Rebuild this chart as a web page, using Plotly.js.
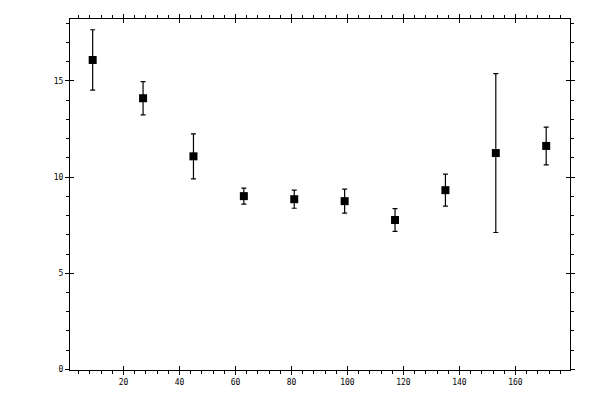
<!DOCTYPE html>
<html>
<head>
<meta charset="utf-8">
<script src="https://cdn.plot.ly/plotly-3.0.1.min.js"></script>
<style>html,body{margin:0;padding:0;background:#fff;}#chart{width:600px;height:400px;}</style>
</head>
<body>
<div id="chart"></div>
<script>
const xValues = [9, 27, 45, 63, 81, 99, 117, 135, 153, 171];
const yValues = [16.09, 14.10, 11.08, 9.01, 8.85, 8.75, 7.77, 9.32, 11.25, 11.62];
const yErrors = [1.57, 0.86, 1.17, 0.42, 0.47, 0.62, 0.59, 0.83, 4.13, 0.98];

const tickFont = {family: 'DejaVu Sans Mono, monospace', size: 8, color: '#000'};
const xRange = [0.9, 179.5];
const yRange = [-0.03, 18.22];

const main = {
  x: xValues, y: yValues, type: 'scatter', mode: 'markers',
  marker: {symbol: 'square', size: 8, color: '#000'},
  error_y: {type: 'data', array: yErrors, visible: true, color: '#000', thickness: 1.2, width: 2.5},
  hoverinfo: 'skip', showlegend: false
};
const ghost = {
  x: xValues, y: yValues, type: 'scatter', mode: 'markers',
  xaxis: 'x2', yaxis: 'y2',
  marker: {size: 1, opacity: 0}, hoverinfo: 'skip', showlegend: false
};

const layout = {
  width: 600, height: 400,
  margin: {l: 70, r: 30, t: 19, b: 30},
  paper_bgcolor: '#fff', plot_bgcolor: '#fff',
  showlegend: false,
  xaxis: {
    range: xRange, dtick: 20, tick0: 0,
    showgrid: false, zeroline: false,
    showline: true, linecolor: '#000', linewidth: 1, mirror: 'ticks',
    ticks: 'outside', ticklen: 4, tickwidth: 1, tickcolor: '#000',
    minor: {dtick: 4, tick0: 0, ticks: 'outside', ticklen: 3, tickwidth: 1, tickcolor: '#000', showgrid: false},
    tickfont: tickFont
  },
  yaxis: {
    range: yRange, dtick: 5, tick0: 0,
    showgrid: false, zeroline: false,
    showline: true, linecolor: '#000', linewidth: 1, mirror: 'ticks',
    ticks: 'outside', ticklen: 4, tickwidth: 1, tickcolor: '#000',
    minor: {dtick: 1, tick0: 0, ticks: 'outside', ticklen: 3, tickwidth: 1, tickcolor: '#000', showgrid: false},
    tickfont: tickFont
  },
  xaxis2: {
    overlaying: 'x', range: xRange, dtick: 20, tick0: 0,
    showgrid: false, zeroline: false, showline: false, mirror: 'ticks',
    ticks: 'inside', ticklen: 4, tickwidth: 1, tickcolor: '#000',
    showticklabels: false
  },
  yaxis2: {
    overlaying: 'y', range: yRange, dtick: 5, tick0: 0,
    showgrid: false, zeroline: false, showline: false, mirror: 'ticks',
    ticks: 'inside', ticklen: 4, tickwidth: 1, tickcolor: '#000',
    showticklabels: false
  }
};

Plotly.newPlot('chart', [main, ghost], layout, {staticPlot: true, displayModeBar: false});
</script>
</body>
</html>
